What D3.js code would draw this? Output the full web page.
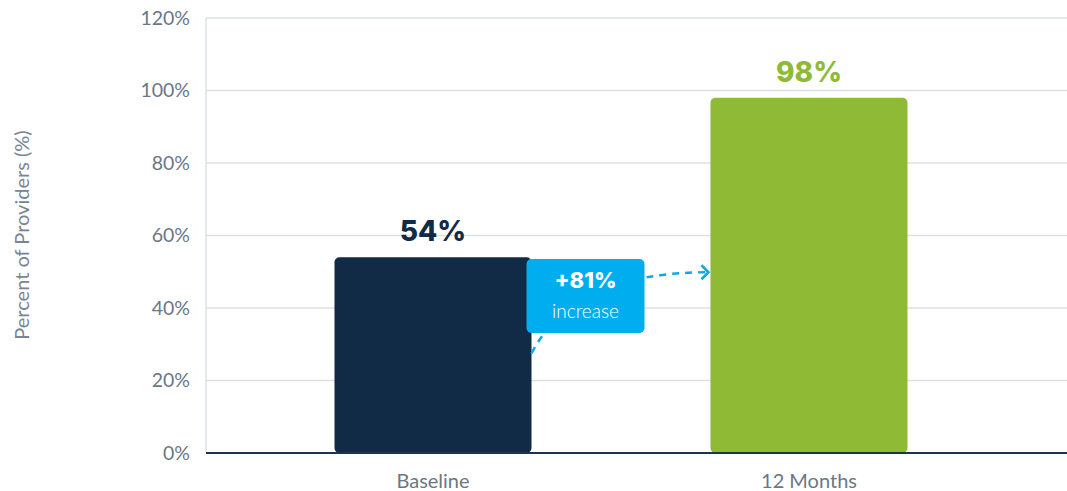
<!DOCTYPE html>
<html>
<head>
<meta charset="utf-8">
<script src="https://cdn.jsdelivr.net/npm/d3@7"></script>
<style>
  body { margin: 0; background: #fff; }
</style>
</head>
<body>
<svg id="chart" width="1067" height="491"></svg>
<script>
// data
const categories = ['Baseline', '12 Months'];
const values = [54, 98];
const barColors = ['#112a45', '#8fba35'];
const yTicks = [0, 20, 40, 60, 80, 100, 120];
const changeLabel = '+81%';
const changeSub = 'increase';

const svg = d3.select('#chart');
const plotLeft = 206, plotRight = 1067, plotTop = 18, plotBottom = 453;

const y = d3.scaleLinear().domain([0, 120]).range([plotBottom, plotTop]);
const x = d3.scaleBand().domain(categories).range([245, 997])
  .paddingInner(0.476).paddingOuter(0.238);

// grid
svg.append('g').selectAll('line').data(yTicks.filter(d => d > 0)).join('line')
  .attr('x1', plotLeft).attr('x2', plotRight)
  .attr('y1', d => y(d)).attr('y2', d => y(d))
  .attr('stroke', '#dde1e7').attr('stroke-width', 1.5);
svg.append('line')
  .attr('x1', plotLeft).attr('x2', plotLeft).attr('y1', y(120)).attr('y2', y(0))
  .attr('stroke', '#dde1e7').attr('stroke-width', 1.5);

// y axis labels
const yAxis = d3.axisLeft(y).tickValues(yTicks).tickFormat(d => d + '%').tickSize(0).tickPadding(16);
svg.append('g').attr('transform', `translate(${plotLeft},0)`).call(yAxis)
  .call(g => g.select('.domain').remove())
  .selectAll('text')
  .attr('fill', '#6b7785').style('font-family', 'Lato, sans-serif').style('font-size', '19.5px');

svg.append('text')
  .attr('transform', `translate(29,235) rotate(-90)`)
  .attr('text-anchor', 'middle')
  .attr('fill', '#7a8591')
  .style('font-family', 'Lato, sans-serif').style('font-size', '20px')
  .text('Percent of Providers (%)');

// bars
svg.append('g').selectAll('rect').data(values).join('rect')
  .attr('x', (d, i) => x(categories[i]))
  .attr('y', d => y(d))
  .attr('width', x.bandwidth())
  .attr('height', d => y(0) - y(d))
  .attr('rx', 5)
  .attr('fill', (d, i) => barColors[i]);

// baseline
svg.append('line')
  .attr('x1', plotLeft).attr('x2', plotRight).attr('y1', y(0)).attr('y2', y(0))
  .attr('stroke', '#1b3550').attr('stroke-width', 2);

// x labels
const xAxis = d3.axisBottom(x).tickSize(0).tickPadding(21);
svg.append('g').attr('transform', `translate(0,${y(0)})`).call(xAxis)
  .call(g => g.select('.domain').remove())
  .selectAll('text')
  .attr('fill', '#6b7785').style('font-family', 'Lato, sans-serif').style('font-size', '20px');

// value labels
svg.append('g').selectAll('text').data(values).join('text')
  .attr('x', (d, i) => x(categories[i]) + x.bandwidth() / 2)
  .attr('y', d => y(d) - 16)
  .attr('text-anchor', 'middle')
  .attr('fill', (d, i) => barColors[i])
  .style('font-family', 'Inter, sans-serif').style('font-size', '28px').style('font-weight', 800)
  .text(d => d + '%');

// dashed arrow from baseline bar to 12 month bar
const x0 = x(categories[0]) + x.bandwidth(), x1 = x(categories[1]);
const ya = y(values[0]) + 15;
svg.append('path')
  .attr('d', `M${x0},${y(27.5)} Q${x0 + 42},${ya} ${x1 - 2},${ya}`)
  .attr('fill', 'none').attr('stroke', '#0fa7e6').attr('stroke-width', 2.5)
  .attr('stroke-dasharray', '7,6');
svg.append('path')
  .attr('d', `M${x1 - 9},${ya - 7} L${x1 - 2},${ya} L${x1 - 9},${ya + 7}`)
  .attr('fill', 'none').attr('stroke', '#0fa7e6').attr('stroke-width', 2.5);

// callout box
const bx = x0 - 5, by = y(53.5), bw = 118, bh = 74;
svg.append('rect')
  .attr('x', bx).attr('y', by).attr('width', bw).attr('height', bh)
  .attr('rx', 5).attr('fill', '#00aeef');
svg.append('text')
  .attr('x', bx + bw / 2).attr('y', by + 29)
  .attr('text-anchor', 'middle').attr('fill', '#fff')
  .style('font-family', 'Inter, sans-serif').style('font-size', '22px').style('font-weight', 800)
  .text(changeLabel);
svg.append('text')
  .attr('x', bx + bw / 2).attr('y', by + 59)
  .attr('text-anchor', 'middle').attr('fill', '#fff')
  .style('font-family', 'Lato, sans-serif').style('font-size', '19px').style('font-weight', 300)
  .text(changeSub);
</script>
</body>
</html>
